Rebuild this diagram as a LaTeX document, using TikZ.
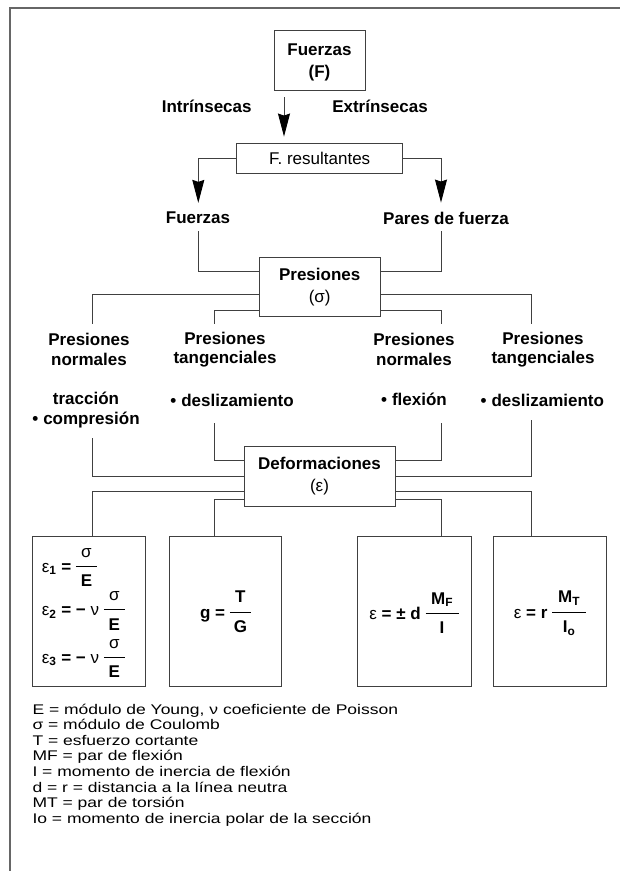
\documentclass[tikz,border=0pt]{standalone}
\usepackage{fontspec}
\setmainfont{Liberation Sans}
\newfontfamily\leyfam[FakeStretch=1.25]{Liberation Sans}
\usetikzlibrary{arrows.meta}

\newcommand{\fracc}[3][21pt]{\ensuremath{\vcenter{\hbox{\setlength{\tabcolsep}{0pt}\setlength{\arrayrulewidth}{0.8pt}\begin{tabular}{c}\makebox[#1]{#2}\\[3pt]\hline\rule{0pt}{20pt}#3\end{tabular}}}}}
\newcommand{\leyfont}{\leyfam\fontsize{14}{15.6}\selectfont\lineskiplimit=-10pt\relax}

\begin{document}
\begin{tikzpicture}[x=1pt,y=-1pt,
    caja/.style={draw=black!75,line width=0.9pt,inner sep=0pt},
    negrita/.style={font=\fontsize{17}{19.5}\selectfont\bfseries,align=center,inner sep=0pt},
    fino/.style={font=\fontsize{17}{21.7}\selectfont,align=center,inner sep=0pt},
    formula/.style={font=\fontsize{17}{19.5}\selectfont,inner sep=0pt},
    linea/.style={draw=black!75,line width=0.9pt},
    flecha/.style={linea,-{Stealth[length=23pt,width=12pt,inset=2pt,black]}}]
    \useasboundingbox (0,0) rectangle (620,871);
    \draw[black!60,line width=1.6pt] (10,871) -- (10,8) -- (620,8);

    \node[caja,negrita,font=\fontsize{17}{22}\selectfont\bfseries,minimum width=91pt,minimum height=60pt] (fuerzas) at (319.5,60) {\rule{0pt}{17pt}Fuerzas\\(F)};
    \node[negrita] (intr) at (206.7,106) {Intrínsecas};
    \node[negrita] (extr) at (380,106) {Extrínsecas};
    \node[caja,fino,minimum width=166pt,minimum height=30pt] (result) at (319.7,158) {F. resultantes};
    \draw[flecha] ([xshift=-35.5pt,yshift=-7pt]fuerzas.south) -- ([xshift=-35.7pt,yshift=6pt]result.north);

    \node[negrita] (fz) at (198,218) {Fuerzas};
    \node[negrita] (pares) at (446,218) {Pares de fuerza};
    \draw[flecha] (result.west) -| ([xshift=0.3pt,yshift=9pt]fz.north);
    \draw[flecha] (result.east) -| ([xshift=-5pt,yshift=9pt]pares.north);

    \node[caja,fino,minimum width=120.7pt,minimum height=59.4pt] (pres) at (319.7,287) {\textbf{Presiones}\\(σ)};
    \draw[linea] ([xshift=0.3pt,yshift=-7pt]fz.south) |- ([yshift=15.3pt]pres.west);
    \draw[linea] ([xshift=-5pt,yshift=-7pt]pares.south) |- ([yshift=15.3pt]pres.east);

    % presiones
    \node[negrita] (pn1) at (89,349.5) {Presiones\\normales};
    \node[negrita] (pt2) at (225,349.5) {Presiones\\tangenciales};
    \node[negrita] (pn3) at (414,349.5) {Presiones\\normales};
    \node[negrita] (pt4) at (543,349.5) {Presiones\\tangenciales};
    \coordinate (s1) at (92.7,324.3);
    \coordinate (s2) at (214,324.3);
    \coordinate (s3) at (441,324.3);
    \coordinate (s4) at (531.7,324.3);
    \draw[linea] ([yshift=-7.5pt]pres.west) -| (s1);
    \draw[linea] ([yshift=-23pt]pres.west) -| (s2);
    \draw[linea] ([yshift=-23pt]pres.east) -| (s3);
    \draw[linea] ([yshift=-7.5pt]pres.east) -| (s4);

    \node[negrita] (tr1) at (86,410) {tracción\\•\hspace{5pt}compresión};
    \node[negrita] (ds2) at (232,400) {•\hspace{5pt}deslizamiento};
    \node[negrita] (fl3) at (414,399.5) {•\hspace{5pt}flexión};
    \node[negrita] (ds4) at (542.3,400) {•\hspace{5pt}deslizamiento};

    % deformaciones
    \node[caja,fino,minimum width=151pt,minimum height=60pt] (defor) at (319.5,476) {\textbf{Deformaciones}\\(ε)};
    \coordinate (d1) at (92.7,438);
    \coordinate (d2) at (214,423.3);
    \coordinate (d3) at (441,423.3);
    \coordinate (d4) at (531.7,420);
    \draw[linea] (d1) |- (defor.west);
    \draw[linea] (d2) |- ([yshift=15.3pt]defor.west);
    \draw[linea] (d3) |- ([yshift=15.3pt]defor.east);
    \draw[linea] (d4) |- (defor.east);

    \node[caja,minimum width=113pt,minimum height=150pt] (b1) at (89.2,611.7) {};
    \node[caja,minimum width=112.5pt,minimum height=150pt] (b2) at (225.2,611.7) {};
    \node[caja,minimum width=113.3pt,minimum height=150pt] (b3) at (414.3,611.7) {};
    \node[caja,minimum width=113.2pt,minimum height=150pt] (b4) at (550,611.7) {};
    \draw[linea] ([yshift=-15pt]defor.west) -| ([xshift=3.5pt]b1.north);
    \draw[linea] ([yshift=-23pt]defor.west) -| ([xshift=-11.2pt]b2.north);
    \draw[linea] ([yshift=-23pt]defor.east) -| ([xshift=26.7pt]b3.north);
    \draw[linea] ([yshift=-15pt]defor.east) -| ([xshift=-18.3pt]b4.north);

    \node[formula,anchor=west] (e1) at (41.7,568) {ε\textsubscript{\bfseries 1} \textbf{=} \fracc{σ}{\textbf{E}}};
    \node[formula,anchor=west] (e2) at (41.7,611.5) {ε\textsubscript{\bfseries 2} \textbf{= −} ν \fracc{σ}{\textbf{E}}};
    \node[formula,anchor=west] (e3) at (41.7,659) {ε\textsubscript{\bfseries 3} \textbf{= −} ν \fracc{σ}{\textbf{E}}};
    \node[formula] (g) at (225.5,613.7) {\textbf{g =} \fracc{\textbf{T}}{\textbf{G}}};
    \node[formula] (e4) at (414,615) {ε \textbf{= ± d} \fracc[33pt]{\textbf{M\textsubscript{F}}}{\textbf{I}}};
    \node[formula] (e5) at (550,613.7) {ε \textbf{= r} \fracc[34pt]{\textbf{M\textsubscript{T}}}{\textbf{I\textsubscript{o}}}};

    % leyenda
    \node[anchor=north west,align=left,inner sep=0pt,font=\leyfont] (ley) at (32.3,703.5) {E = módulo de Young, ν coeficiente de Poisson\\
      σ = módulo de Coulomb\\
      T = esfuerzo cortante\\
      MF = par de flexión\\
      I = momento de inercia de flexión\\
      d = r = distancia a la línea neutra\\
      MT = par de torsión\\
      Io = momento de inercia polar de la sección};
\end{tikzpicture}
\end{document}
